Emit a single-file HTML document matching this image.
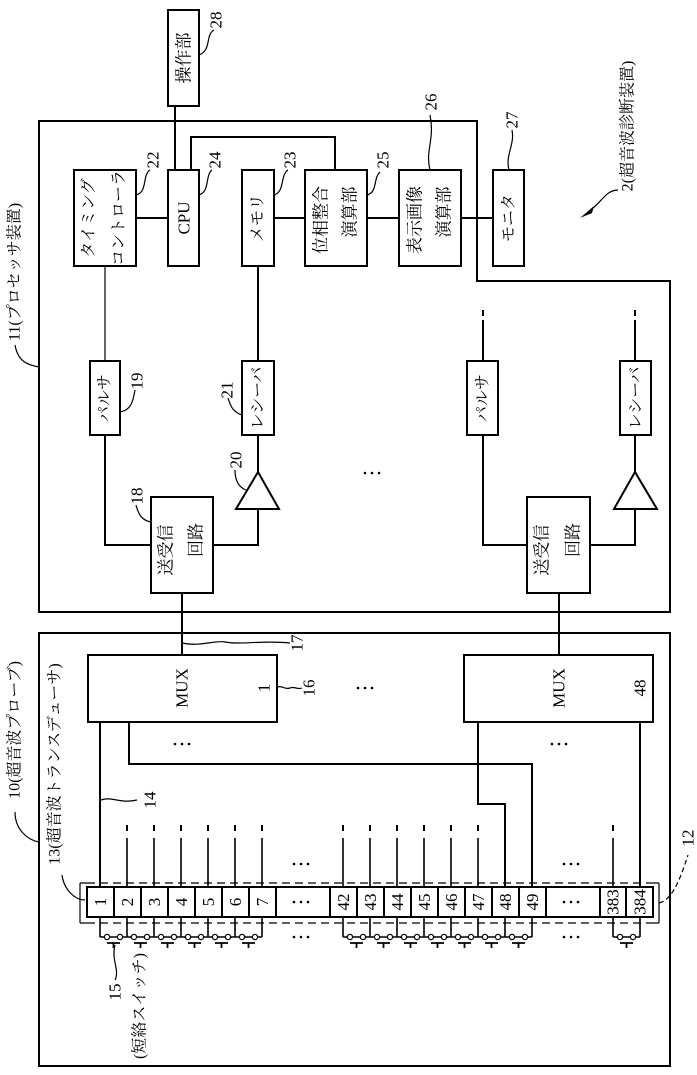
<!DOCTYPE html>
<html><head><meta charset="utf-8"><style>
html,body{margin:0;padding:0;background:#fff}
svg{display:block}
text{font-family:"Liberation Serif","Noto Serif CJK JP","Noto Serif CJK SC",serif;text-anchor:middle;dominant-baseline:central;fill:#000}
.j{font-size:17px}
.n{font-size:17px}
.s{font-size:16px}
.l{font-size:16px}
</style></head><body>
<svg width="697" height="1075" viewBox="0 0 697 1075" xmlns="http://www.w3.org/2000/svg">
<g fill="none" stroke="#000" stroke-width="2">
<path d="M39,121 H477 V281 H670 V612 H39 Z"/>
<rect x="168" y="10" width="31" height="96"/>
<rect x="74" y="170" width="62" height="96"/>
<rect x="168" y="170" width="31" height="96"/>
<rect x="242" y="170" width="32" height="96"/>
<rect x="305" y="170" width="62" height="96"/>
<rect x="399" y="170" width="62" height="96"/>
<rect x="493" y="170" width="31" height="96"/>
<path d="M175,106 V170 M136,218 H168 M274,218 H305 M367,218 H399 M461,218 H493 M191,170 V137 H335 V170"/>
<rect x="90" y="361" width="30" height="74"/>
<rect x="242" y="361" width="32" height="74"/>
<rect x="151" y="497" width="62" height="96"/>
<path d="M236,509 L279,509 L258,472 Z"/>
<path d="M258,266 V361 M258,435 V472 M258,509 V545 H213 M151,545 H105 V435 M182,593 V655"/>
<rect x="467" y="361" width="31" height="74"/>
<rect x="620" y="361" width="31" height="74"/>
<rect x="527" y="497" width="63" height="96"/>
<path d="M614,509 L657,509 L635,472 Z"/>
<path d="M483,320 V361 M483,435 V545 H527 M590,545 H635 V509 M635,472 V435 M635,361 V320 M559,593 V655"/>
<rect x="39" y="633" width="631" height="433"/>
<rect x="88" y="655" width="189" height="67"/>
<rect x="464" y="655" width="189" height="67"/>
<path d="M100,722 V887 M129,722 V764 H532 V887 M478,722 V804 H505 V887 M640,722 V887"/>
<rect x="87" y="887" width="566" height="30"/>
<path d="M114,887V917M141,887V917M168,887V917M195,887V917M222,887V917M249,887V917M276,887V917M330,887V917M357,887V917M384,887V917M411,887V917M438,887V917M465,887V917M492,887V917M519,887V917M546,887V917M600,887V917M626,887V917"/>
</g>
<g fill="none" stroke="#000" stroke-width="1.2">
<path d="M105,266 V361"/>
<path d="M80,883 V923 M659,883 V923 M80,923 H87 M653,923 H659 M80,883 H87 M653,883 H659"/>
<path d="M87,883 H653 M87,923 H653" stroke-dasharray="8,5"/>
<path d="M127,825V831M154,825V831M181,825V831M208,825V831M235,825V831M262,825V831M343,825V831M370,825V831M397,825V831M424,825V831M451,825V831M478,825V831M613,825V831M483,310V316M635,310V316" stroke-width="2"/>
<path d="M127,838V887M154,838V887M181,838V887M208,838V887M235,838V887M262,838V887M343,838V887M370,838V887M397,838V887M424,838V887M451,838V887M478,838V887M613,838V887" stroke-width="1.6"/>
<path d="M100,917V937M127,917V937M154,917V937M181,917V937M208,917V937M235,917V937M262,917V937M343,917V937M370,917V937M397,917V937M424,917V937M451,917V937M478,917V937M505,917V937M532,917V937M613,917V937M640,917V937" stroke-width="1.6"/>
<path d="M100,937H262M343,937H532M613,937H640" stroke-width="1.6"/>
<path d="M107,943H120M113.5,943V948M134,943H147M140.5,943V948M161,943H174M167.5,943V948M188,943H201M194.5,943V948M215,943H228M221.5,943V948M242,943H255M248.5,943V948
M350,943H363M356.5,943V948M377,943H390M383.5,943V948M404,943H417M410.5,943V948M431,943H444M437.5,943V948M458,943H471M464.5,943V948M485,943H498M491.5,943V948M512,943H525M518.5,943V948M620,943H633M626.5,943V948" stroke-width="1.8"/>
<path d="M199,55 C212,50 205,35 214,30"/>
<path d="M136,195 C148,192 142,175 150,170"/>
<path d="M199,195 C210,192 205,175 212,170"/>
<path d="M274,195 C285,192 280,175 288,170"/>
<path d="M367,195 C378,192 373,178 380,172"/>
<path d="M430,170 C425,150 435,140 430,115"/>
<path d="M509,170 C505,155 515,145 512,130"/>
<path d="M618,190 C605,190 600,205 590,210"/>
<path d="M15,345 C18,362 28,365 39,367"/>
<path d="M120,412 C132,410 133,400 135,390"/>
<path d="M242,415 C232,412 230,404 228,398"/>
<path d="M246,490 C238,487 235,480 235,470"/>
<path d="M151,522 C140,520 138,512 136,505"/>
<path d="M182,643 C200,647 215,640 225,642 C240,645 265,640 290,643"/>
<path d="M277,687 C283,685 284,690 290,688 C295,686 297,690 302,688"/>
<path d="M15,812 C15,830 28,840 39,842"/>
<path d="M62,875 C64,890 75,900 85,900"/>
<path d="M101,800 C112,796 120,804 137,800"/>
<path d="M115,945 C111,960 120,970 115,980"/>
<path d="M659,903 C672,900 680,880 688,855" stroke-dasharray="5,3"/>
</g>
<path d="M580,218 L594,206 L592,213 Z" fill="#000"/>
<g fill="#fff" stroke="#000" stroke-width="1.3">
<circle cx="107" cy="937" r="2.6"/><circle cx="120" cy="937" r="2.6"/>
<circle cx="134" cy="937" r="2.6"/><circle cx="147" cy="937" r="2.6"/>
<circle cx="161" cy="937" r="2.6"/><circle cx="174" cy="937" r="2.6"/>
<circle cx="188" cy="937" r="2.6"/><circle cx="201" cy="937" r="2.6"/>
<circle cx="215" cy="937" r="2.6"/><circle cx="228" cy="937" r="2.6"/>
<circle cx="242" cy="937" r="2.6"/><circle cx="255" cy="937" r="2.6"/>
<circle cx="350" cy="937" r="2.6"/><circle cx="363" cy="937" r="2.6"/>
<circle cx="377" cy="937" r="2.6"/><circle cx="390" cy="937" r="2.6"/>
<circle cx="404" cy="937" r="2.6"/><circle cx="417" cy="937" r="2.6"/>
<circle cx="431" cy="937" r="2.6"/><circle cx="444" cy="937" r="2.6"/>
<circle cx="458" cy="937" r="2.6"/><circle cx="471" cy="937" r="2.6"/>
<circle cx="485" cy="937" r="2.6"/><circle cx="498" cy="937" r="2.6"/>
<circle cx="512" cy="937" r="2.6"/><circle cx="525" cy="937" r="2.6"/>
<circle cx="620" cy="937" r="2.6"/><circle cx="633" cy="937" r="2.6"/>
</g>
<g fill="#000">
<circle cx="365" cy="473" r="1.3"/><circle cx="372" cy="473" r="1.3"/><circle cx="379" cy="473" r="1.3"/>
<circle cx="358" cy="688" r="1.3"/><circle cx="365" cy="688" r="1.3"/><circle cx="372" cy="688" r="1.3"/>
<circle cx="175" cy="744" r="1.3"/><circle cx="182" cy="744" r="1.3"/><circle cx="189" cy="744" r="1.3"/>
<circle cx="552" cy="744" r="1.3"/><circle cx="559" cy="744" r="1.3"/><circle cx="566" cy="744" r="1.3"/>
<circle cx="294" cy="864" r="1.3"/><circle cx="301" cy="864" r="1.3"/><circle cx="308" cy="864" r="1.3"/>
<circle cx="294" cy="902" r="1.3"/><circle cx="301" cy="902" r="1.3"/><circle cx="308" cy="902" r="1.3"/>
<circle cx="294" cy="937" r="1.3"/><circle cx="301" cy="937" r="1.3"/><circle cx="308" cy="937" r="1.3"/>
<circle cx="564" cy="864" r="1.3"/><circle cx="571" cy="864" r="1.3"/><circle cx="578" cy="864" r="1.3"/>
<circle cx="564" cy="902" r="1.3"/><circle cx="571" cy="902" r="1.3"/><circle cx="578" cy="902" r="1.3"/>
<circle cx="564" cy="937" r="1.3"/><circle cx="571" cy="937" r="1.3"/><circle cx="578" cy="937" r="1.3"/>
</g>
<text class="j" transform="translate(184,58) rotate(-90)">操作部</text>
<text class="s" transform="translate(89,218) rotate(-90)">タイミング</text>
<text class="s" transform="translate(119,218) rotate(-90)">コントローラ</text>
<text class="n" transform="translate(184,218) rotate(-90)">CPU</text>
<text class="s" transform="translate(258,218) rotate(-90)">メモリ</text>
<text class="j" transform="translate(321,220) rotate(-90)">位相整合</text>
<text class="j" transform="translate(350,212) rotate(-90)">演算部</text>
<text class="j" transform="translate(415,220) rotate(-90)">表示画像</text>
<text class="j" transform="translate(444,212) rotate(-90)">演算部</text>
<text class="s" transform="translate(509,218) rotate(-90)">モニタ</text>
<text class="n" transform="translate(216,20) rotate(-90)">28</text>
<text class="n" transform="translate(153,160) rotate(-90)">22</text>
<text class="n" transform="translate(215,160) rotate(-90)">24</text>
<text class="n" transform="translate(290,160) rotate(-90)">23</text>
<text class="n" transform="translate(383,160) rotate(-90)">25</text>
<text class="n" transform="translate(431,102) rotate(-90)">26</text>
<text class="n" transform="translate(512,120) rotate(-90)">27</text>
<text class="l" transform="translate(628,126) rotate(-90)">2(超音波診断装置)</text>
<text class="l" transform="translate(15,272) rotate(-90)">11(プロセッサ装置)</text>
<text class="s" transform="translate(105,398) rotate(-90)">パルサ</text>
<text class="s" transform="translate(258,398) rotate(-90)">レシーバ</text>
<text class="s" transform="translate(483,398) rotate(-90)">パルサ</text>
<text class="s" transform="translate(636,398) rotate(-90)">レシーバ</text>
<text class="n" transform="translate(137,381) rotate(-90)">19</text>
<text class="n" transform="translate(227,390) rotate(-90)">21</text>
<text class="n" transform="translate(236,460) rotate(-90)">20</text>
<text class="n" transform="translate(137,496) rotate(-90)">18</text>
<text class="j" transform="translate(166,550) rotate(-90)">送受信</text>
<text class="j" transform="translate(196,540) rotate(-90)">回路</text>
<text class="j" transform="translate(542,550) rotate(-90)">送受信</text>
<text class="j" transform="translate(573,540) rotate(-90)">回路</text>
<text class="n" transform="translate(182,688) rotate(-90)">MUX</text>
<text class="n" transform="translate(559,688) rotate(-90)">MUX</text>
<text class="n" transform="translate(264,688) rotate(-90)">1</text>
<text class="n" transform="translate(640,688) rotate(-90)">48</text>
<text class="n" transform="translate(297,643) rotate(-90)">17</text>
<text class="n" transform="translate(309,688) rotate(-90)">16</text>
<text class="l" transform="translate(15,730) rotate(-90)">10(超音波プローブ)</text>
<text class="l" transform="translate(55,764) rotate(-90)">13(超音波トランスデューサ)</text>
<text class="n" transform="translate(150,800) rotate(-90)">14</text>
<text class="n" transform="translate(115,992) rotate(-90)">15</text>
<text class="l" transform="translate(140,1006) rotate(-90)">(短絡スイッチ)</text>
<text class="n" transform="translate(688,838) rotate(-90)">12</text>
<text class="n" transform="translate(100.5,902) rotate(-90)">1</text>
<text class="n" transform="translate(127.5,902) rotate(-90)">2</text>
<text class="n" transform="translate(154.5,902) rotate(-90)">3</text>
<text class="n" transform="translate(181.5,902) rotate(-90)">4</text>
<text class="n" transform="translate(208.5,902) rotate(-90)">5</text>
<text class="n" transform="translate(235.5,902) rotate(-90)">6</text>
<text class="n" transform="translate(262.5,902) rotate(-90)">7</text>
<text class="n" transform="translate(343.5,902) rotate(-90)">42</text>
<text class="n" transform="translate(370.5,902) rotate(-90)">43</text>
<text class="n" transform="translate(397.5,902) rotate(-90)">44</text>
<text class="n" transform="translate(424.5,902) rotate(-90)">45</text>
<text class="n" transform="translate(451.5,902) rotate(-90)">46</text>
<text class="n" transform="translate(478.5,902) rotate(-90)">47</text>
<text class="n" transform="translate(505.5,902) rotate(-90)">48</text>
<text class="n" transform="translate(532.5,902) rotate(-90)">49</text>
<text class="n" transform="translate(613,902) rotate(-90)">383</text>
<text class="n" transform="translate(640,902) rotate(-90)">384</text>
</svg>
</body></html>
